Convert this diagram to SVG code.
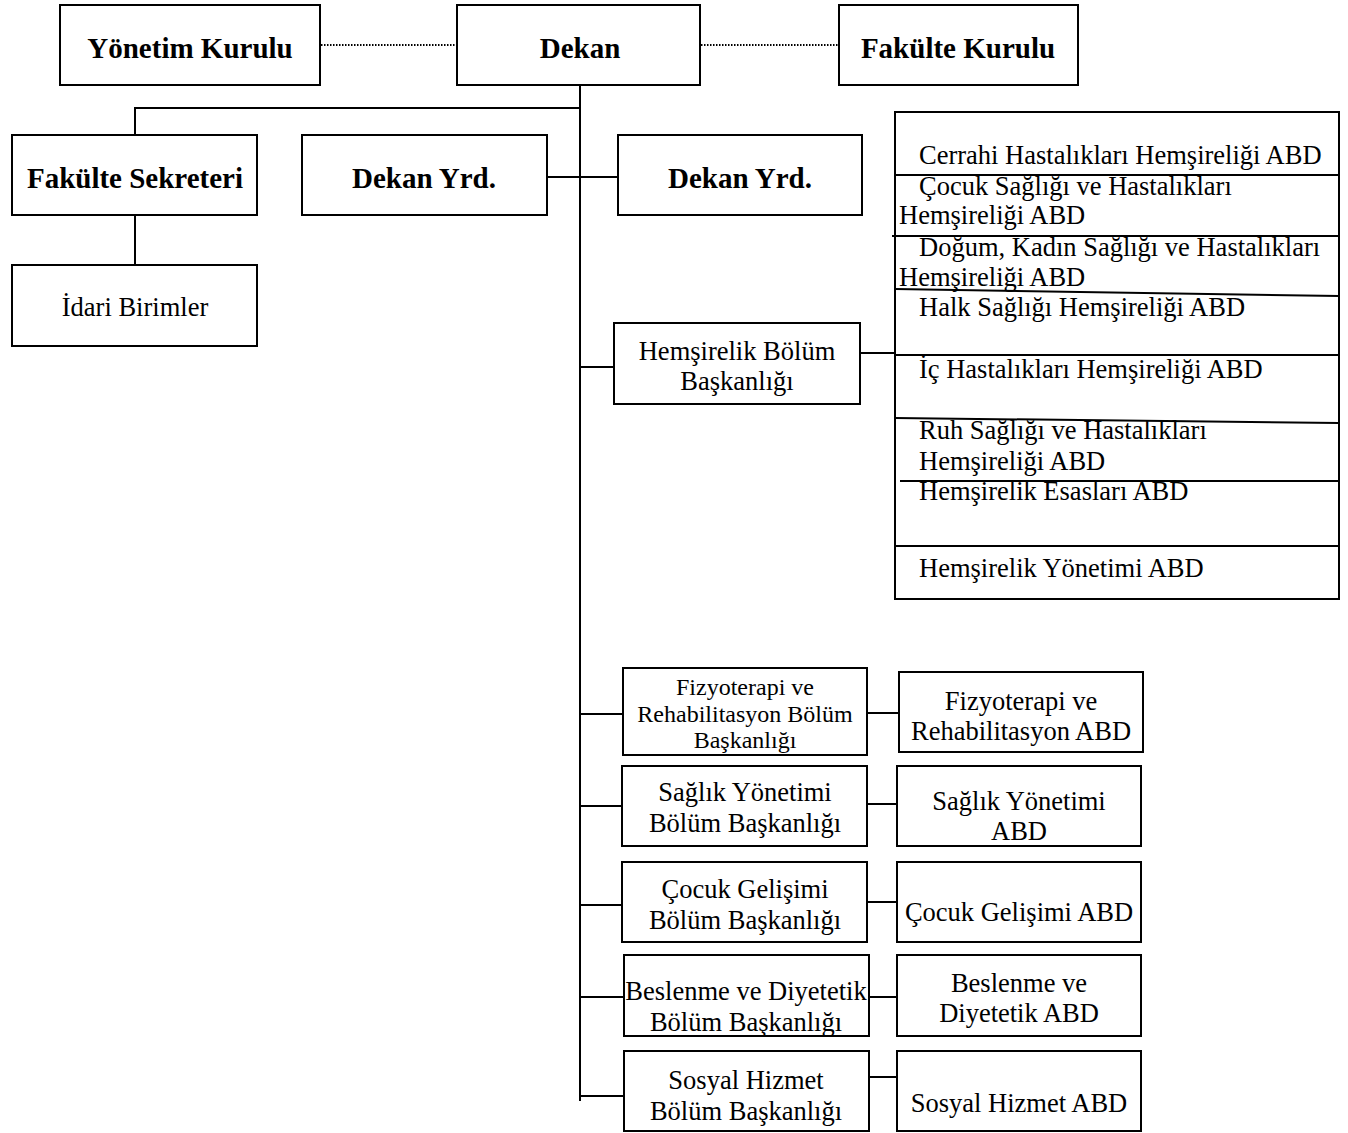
<svg xmlns="http://www.w3.org/2000/svg" width="1348" height="1133" viewBox="0 0 1348 1133">
<style>
.box{fill:#fff;stroke:#000;stroke-width:2}
.ln{stroke:#000;stroke-width:2;fill:none}
.dot{stroke:#000;stroke-width:2;stroke-dasharray:1.5 1.5;fill:none}
.b{font-family:"Liberation Serif","Times New Roman",serif;font-weight:bold;font-size:29px;text-anchor:middle;fill:#000}
.t{font-family:"Liberation Serif","Times New Roman",serif;font-size:26.5px;text-anchor:middle;fill:#000}
.s{font-family:"Liberation Serif","Times New Roman",serif;font-size:24px;text-anchor:middle;fill:#000}
.l{font-family:"Liberation Serif","Times New Roman",serif;font-size:26.5px;fill:#000}
</style>
<rect width="1348" height="1133" fill="#fff"/>
<g id="connectors">
<line class="dot" x1="321" y1="45" x2="456" y2="45"/>
<line class="dot" x1="701" y1="45" x2="838" y2="45"/>
<line class="ln" x1="580" y1="85" x2="580" y2="1101"/>
<polyline class="ln" points="580,108 135,108 135,135"/>
<line class="ln" x1="135" y1="215" x2="135" y2="265"/>
<line class="ln" x1="547" y1="177" x2="618" y2="177"/>
<line class="ln" x1="580" y1="367" x2="614" y2="367"/>
<line class="ln" x1="860" y1="353" x2="895" y2="353"/>
<line class="ln" x1="580" y1="714" x2="623" y2="714"/>
<line class="ln" x1="867" y1="713" x2="899" y2="713"/>
<line class="ln" x1="580" y1="806" x2="632" y2="806"/>
<line class="ln" x1="867" y1="804" x2="897" y2="804"/>
<line class="ln" x1="580" y1="905" x2="622" y2="905"/>
<line class="ln" x1="867" y1="902" x2="897" y2="902"/>
<line class="ln" x1="580" y1="997" x2="624" y2="997"/>
<line class="ln" x1="869" y1="997" x2="897" y2="997"/>
<line class="ln" x1="580" y1="1096" x2="624" y2="1096"/>
<line class="ln" x1="869" y1="1077" x2="897" y2="1077"/>
</g>
<g id="yonetim-kurulu"><rect class="box" x="60" y="5" width="260" height="80"/><text class="b" x="190" y="58">Yönetim Kurulu</text></g>
<g id="dekan"><rect class="box" x="457" y="5" width="243" height="80"/><text class="b" x="580" y="58">Dekan</text></g>
<g id="fakulte-kurulu"><rect class="box" x="839" y="5" width="239" height="80"/><text class="b" x="958" y="58">Fakülte Kurulu</text></g>
<g id="fakulte-sekreteri"><rect class="box" x="12" y="135" width="245" height="80"/><text class="b" x="135" y="188">Fakülte Sekreteri</text></g>
<g id="dekan-yrd-1"><rect class="box" x="302" y="135" width="245" height="80"/><text class="b" x="424" y="188">Dekan Yrd.</text></g>
<g id="dekan-yrd-2"><rect class="box" x="618" y="135" width="244" height="80"/><text class="b" x="740" y="188">Dekan Yrd.</text></g>
<g id="idari-birimler"><rect class="box" x="12" y="265" width="245" height="81"/><text class="t" x="135" y="316">İdari Birimler</text></g>
<g id="hemsirelik-bolum"><rect class="box" x="614" y="323" width="246" height="81"/><text class="t" x="737" y="360">Hemşirelik Bölüm</text><text class="t" x="737" y="390">Başkanlığı</text></g>
<g id="hemsirelik-abd">
<rect class="box" x="895" y="112" width="444" height="487"/>
<line class="ln" x1="895" y1="175" x2="1339" y2="175"/>
<line class="ln" x1="892" y1="236" x2="1339" y2="236"/>
<line class="ln" x1="895" y1="289" x2="1339" y2="296"/>
<line class="ln" x1="895" y1="355" x2="1339" y2="355"/>
<line class="ln" x1="895" y1="418" x2="1339" y2="423"/>
<line class="ln" x1="900" y1="481" x2="1339" y2="481"/>
<line class="ln" x1="895" y1="546" x2="1339" y2="546"/>
<text class="l" x="919" y="164">Cerrahi Hastalıkları Hemşireliği ABD</text>
<text class="l" x="919" y="195">Çocuk Sağlığı ve Hastalıkları</text>
<text class="l" x="899" y="224">Hemşireliği ABD</text>
<text class="l" x="919" y="256">Doğum, Kadın Sağlığı ve Hastalıkları</text>
<text class="l" x="899" y="286">Hemşireliği ABD</text>
<text class="l" x="919" y="316">Halk Sağlığı Hemşireliği ABD</text>
<text class="l" x="919" y="378">İç Hastalıkları Hemşireliği ABD</text>
<text class="l" x="919" y="439">Ruh Sağlığı ve Hastalıkları</text>
<text class="l" x="919" y="470">Hemşireliği ABD</text>
<text class="l" x="919" y="500">Hemşirelik Esasları ABD</text>
<text class="l" x="919" y="577">Hemşirelik Yönetimi ABD</text>
</g>
<g id="fizyoterapi-bolum"><rect class="box" x="623" y="668" width="244" height="87"/><text class="s" x="745" y="695">Fizyoterapi ve</text><text class="s" x="745" y="722">Rehabilitasyon Bölüm</text><text class="s" x="745" y="748">Başkanlığı</text></g>
<g id="fizyoterapi-abd"><rect class="box" x="899" y="672" width="244" height="80"/><text class="t" x="1021" y="710">Fizyoterapi ve</text><text class="t" x="1021" y="740">Rehabilitasyon ABD</text></g>
<g id="saglik-yonetimi-bolum"><rect class="box" x="622" y="766" width="245" height="80"/><text class="t" x="745" y="801">Sağlık Yönetimi</text><text class="t" x="745" y="832">Bölüm Başkanlığı</text></g>
<g id="saglik-yonetimi-abd"><rect class="box" x="897" y="766" width="244" height="80"/><text class="t" x="1019" y="810">Sağlık Yönetimi</text><text class="t" x="1019" y="840">ABD</text></g>
<g id="cocuk-gelisimi-bolum"><rect class="box" x="622" y="862" width="245" height="80"/><text class="t" x="745" y="898">Çocuk Gelişimi</text><text class="t" x="745" y="929">Bölüm Başkanlığı</text></g>
<g id="cocuk-gelisimi-abd"><rect class="box" x="897" y="862" width="244" height="80"/><text class="t" x="1019" y="921">Çocuk Gelişimi ABD</text></g>
<g id="beslenme-bolum"><rect class="box" x="624" y="955" width="245" height="81"/><text class="t" x="746" y="1000">Beslenme ve Diyetetik</text><text class="t" x="746" y="1031">Bölüm Başkanlığı</text></g>
<g id="beslenme-abd"><rect class="box" x="897" y="955" width="244" height="81"/><text class="t" x="1019" y="992">Beslenme ve</text><text class="t" x="1019" y="1022">Diyetetik ABD</text></g>
<g id="sosyal-hizmet-bolum"><rect class="box" x="624" y="1051" width="245" height="80"/><text class="t" x="746" y="1089">Sosyal Hizmet</text><text class="t" x="746" y="1120">Bölüm Başkanlığı</text></g>
<g id="sosyal-hizmet-abd"><rect class="box" x="897" y="1051" width="244" height="80"/><text class="t" x="1019" y="1112">Sosyal Hizmet ABD</text></g>
</svg>
